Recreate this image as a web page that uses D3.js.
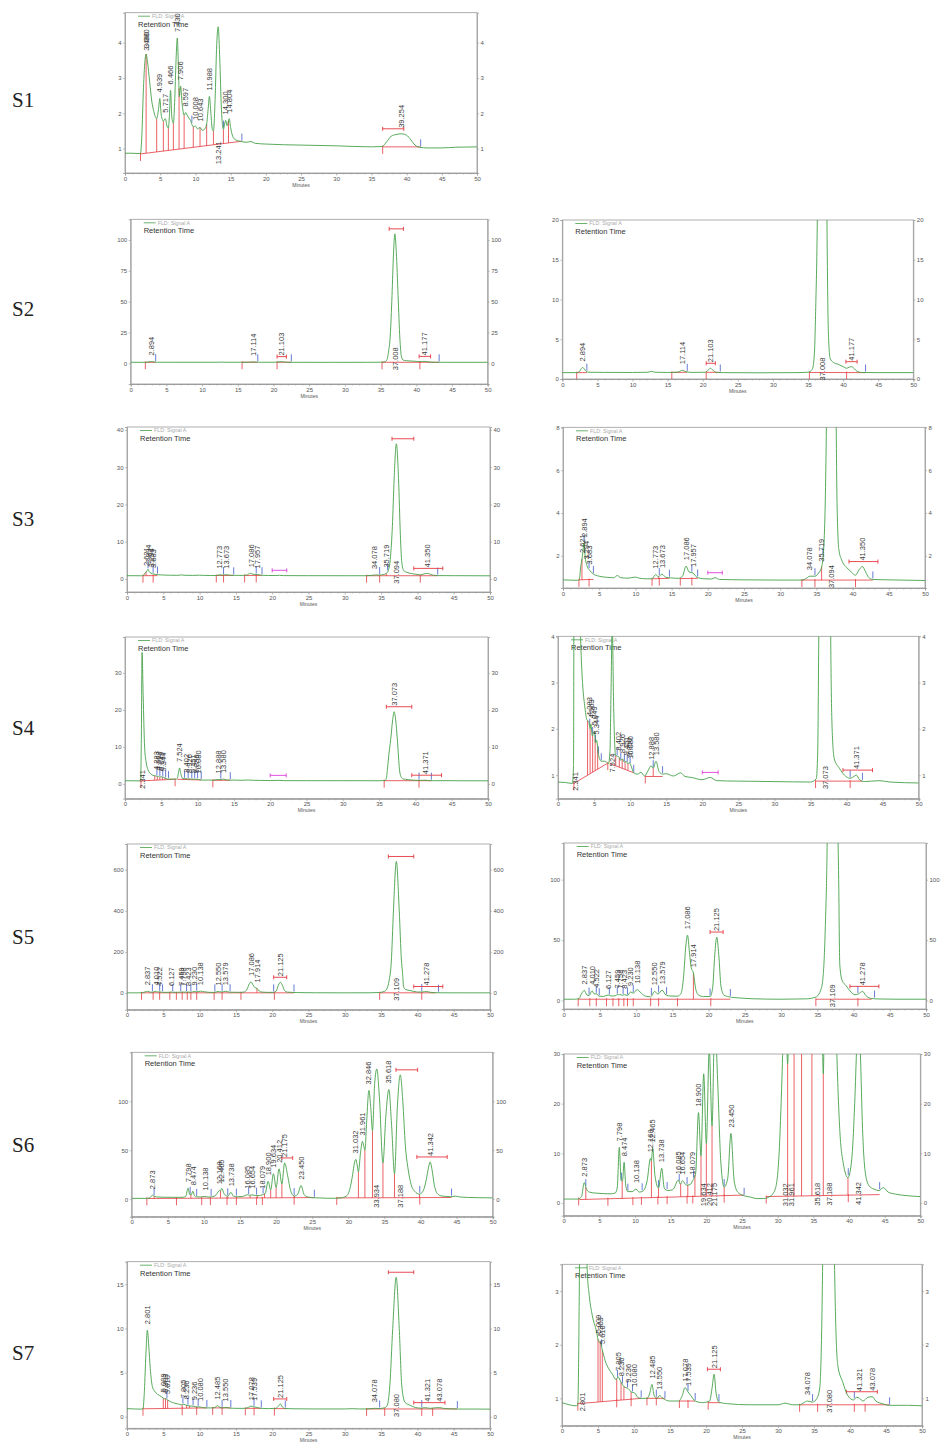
<!DOCTYPE html>
<html>
<head>
<meta charset="utf-8">
<script src="https://cdn.jsdelivr.net/npm/d3@7"></script>
<style>
body { margin: 0; background: #fff; }
svg { display: block; }
text { font-family: "Liberation Sans", Arial, sans-serif; }
</style>
</head>
<body>
<svg id="chart" width="942" height="1448"></svg>
<script>
// ---- data: [minutes, signal] ----
var sampleNames = ["S1", "S2", "S3", "S4", "S5", "S6", "S7"];

var s1Trace = [[0,0.87],[1,0.87],[2,0.86],[2.2,0.87],[2.4,1.4],[2.6,2.6],[2.8,3.4],[3.0,3.68],[3.2,3.45],[3.5,2.9],[3.8,2.35],[4.1,2.05],[4.5,1.85],[4.75,2.1],[4.95,2.42],[5.15,1.95],[5.45,1.78],[5.72,1.85],[6.0,1.62],[6.16,1.58],[6.3,1.9],[6.47,2.65],[6.65,1.9],[6.87,1.72],[7.05,2.3],[7.25,3.5],[7.43,4.13],[7.6,3.2],[7.72,2.47],[7.9,2.77],[8.1,2.3],[8.4,1.95],[8.6,2.02],[8.9,1.92],[9.3,1.8],[9.7,1.62],[10.0,1.64],[10.3,1.56],[10.65,1.6],[11.0,1.52],[11.3,1.55],[11.6,1.7],[11.8,2.1],[11.99,2.48],[12.2,2.0],[12.4,1.55],[12.56,1.5],[12.8,2.4],[13.0,3.8],[13.24,4.45],[13.45,3.6],[13.7,2.1],[13.98,1.55],[14.15,1.7],[14.3,1.8],[14.5,1.65],[14.8,1.85],[15.0,1.6],[15.3,1.35],[15.7,1.25],[16.6,1.2],[17.2,1.18],[17.9,1.2],[18.5,1.15],[20,1.13],[25,1.1],[30,1.08],[35,1.05],[36.5,1.06],[37.2,1.2],[37.8,1.35],[38.5,1.4],[39.3,1.42],[40.0,1.38],[40.6,1.25],[41.2,1.1],[41.8,1.04],[43,1.02],[45,1.02],[47,1.04],[50,1.05]];
var s1Labels = [["3.080",2.98,3.68,"u"],["3.480",3.1,3.6,"u"],["4.939",4.939,2.42,"u"],["5.717",5.717,1.85,"u"],["6.466",6.466,2.65,"u"],["7.430",7.43,4.13,"u"],["7.906",7.906,2.77,"u"],["8.597",8.597,2.02,"u"],["10.008",10.008,1.64,"u"],["10.643",10.643,1.6,"u"],["11.988",11.988,2.48,"u"],["13.241",13.241,4.45,"d"],["14.300",14.3,1.8,"u"],["14.804",14.804,1.85,"u"],["39.254",39.254,1.42,"u"]];
var s1Bases = [[2.2,0.85,16.6,1.21],[36.6,1.05,42.0,1.05]];
var s1Drops = [3.0,4.5,5.45,6.16,6.87,7.68,8.4,9.7,10.66,11.6,12.56,13.98,14.7];
var s1Starts = [2.2,36.6];
var s1Ends = [9.5,14.0,16.6,42.0];
var s1Brackets = [[36.6,39.6,1.42,"r"]];

var s2Trace = [[0,0.8],[2,0.8],[2.4,0.9],[2.7,1.3],[2.9,1.45],[3.1,1.3],[3.4,0.95],[3.8,0.85],[6,0.83],[10,0.82],[12.2,0.85],[12.7,0.97],[13.2,0.85],[15,0.82],[16.5,0.87],[17.1,1.1],[17.6,0.92],[18.5,0.83],[20.4,0.85],[20.8,1.15],[21.1,1.35],[21.4,1.15],[21.9,0.85],[23,0.8],[28,0.78],[33,0.8],[35,0.85],[35.6,1.2],[35.9,3],[36.1,9],[36.35,22],[36.6,55],[36.8,88],[37.0,105],[37.2,90],[37.45,55],[37.7,20],[37.9,6],[38.15,2.6],[38.6,2.1],[39.3,1.85],[40.0,1.55],[40.5,1.35],[40.9,1.5],[41.2,1.55],[41.6,1.3],[42.0,0.95],[42.6,0.82],[45,0.8],[50,0.8]];
var s2Labels = [["2.894",2.894,1.45,"uu"],["17.114",17.114,1.1,"uu"],["21.103",21.103,1.35,"uu"],["37.008",37.008,105,"dd"],["41.177",41.177,1.55,"uu"]];
var s2Bases = [[2.05,0.8,3.5,0.8],[15.6,0.82,17.8,0.85],[20.5,0.85,22.5,0.82],[35.2,0.82,43.2,0.8]];
var s2Drops = [];
var s2Starts = [2.05,15.6,20.5,35.2,40.5];
var s2Ends = [3.5,17.8,22.5,43.2];
var s2Brackets = [[36.2,38.2,105,"r"],[20.5,21.8,1.35,"r"],[40.4,42.0,1.55,"r"]];

var s3Trace = [[0,0.88],[2,0.86],[2.25,0.9],[2.45,1.5],[2.62,1.85],[2.75,2.2],[2.9,2.6],[3.05,2.0],[3.3,1.55],[3.7,1.32],[4.2,1.15],[5,1.05],[6,1.0],[7,0.98],[7.5,1.08],[8,0.98],[9,0.96],[10,1.01],[10.5,0.96],[11.5,0.93],[12.3,0.93],[12.77,1.12],[13.2,1.03],[13.67,1.15],[14.2,1.0],[15,0.97],[16,0.95],[16.5,1.05],[17.0,1.52],[17.4,1.25],[17.95,1.2],[18.5,1.0],[19.5,0.93],[20.5,0.92],[21.0,0.98],[21.6,0.9],[25,0.88],[30,0.87],[33,0.87],[33.6,0.95],[34.1,1.05],[34.8,1.05],[35.3,1.2],[35.7,1.45],[36.0,2.3],[36.3,6],[36.55,14],[36.8,27],[37.1,36.3],[37.4,27],[37.65,12],[37.85,4.5],[38.1,2.3],[38.5,1.8],[39.2,1.45],[39.8,1.25],[40.4,1.1],[40.9,1.35],[41.35,1.5],[41.8,1.25],[42.2,1.0],[42.8,0.9],[45,0.88],[50,0.85]];
var s3Labels = [["2.621",2.621,1.85,"uu"],["2.894",2.894,2.6,"uu"],["3.294",3.294,1.55,"uu"],["3.683",3.683,1.32,"uu"],["12.773",12.773,1.12,"uu"],["13.673",13.673,1.15,"uu"],["17.086",17.086,1.52,"uu"],["17.957",17.957,1.2,"uu"],["34.078",34.078,1.05,"uu"],["35.719",35.719,1.45,"uu"],["37.094",37.094,36.3,"dd"],["41.350",41.35,1.5,"uu"]];
var s3Bases = [[2.2,0.88,4.2,0.9],[12.3,0.93,14.7,0.95],[16.2,0.94,18.6,0.95],[33.0,0.87,42.8,0.87]];
var s3Drops = [2.62,13.2,35.72];
var s3Starts = [2.2,3.6,12.3,13.3,16.2,17.8,33.0,34.8,40.4];
var s3Ends = [2.9,3.6,4.2,13.3,14.7,17.8,18.6,34.8,35.9,42.8];
var s3Brackets = [[36.5,39.5,36.3,"r"],[39.5,43.5,1.5,"r"],[20,22,0.98,"m"]];

var s4Trace = [[0,0.85],[1,0.84],[2,0.82],[2.15,1.2],[2.25,12],[2.35,35.5],[2.5,24],[2.7,10],[2.9,6],[3.1,4.2],[3.4,3.0],[3.7,2.5],[4.0,2.2],[4.28,2.15],[4.45,2.0],[4.56,2.1],[4.75,1.85],[5.05,1.95],[5.2,1.7],[5.35,1.75],[5.6,1.45],[6.0,1.3],[6.5,1.3],[7.0,1.25],[7.2,1.5],[7.35,2.8],[7.52,4.3],[7.7,2.6],[7.85,1.7],[8.0,1.42],[8.4,1.4],[8.7,1.32],[8.93,1.35],[9.2,1.28],[9.45,1.3],[9.7,1.24],[9.85,1.27],[10.08,1.22],[10.5,1.05],[11,1.02],[11.5,1.06],[12,0.98],[12.5,1.1],[12.89,1.2],[13.2,1.15],[13.58,1.3],[14.0,1.08],[14.5,1.02],[15,1.03],[16,0.98],[17,1.05],[17.6,0.97],[18.5,0.95],[20,0.9],[21.1,0.95],[22,0.88],[25,0.87],[30,0.86],[35,0.85],[35.8,0.92],[36.0,1.5],[36.15,4],[36.35,8],[36.6,12],[36.85,17],[37.07,19.5],[37.3,17],[37.55,11],[37.8,4],[38.0,2],[38.3,1.35],[39,1.15],[39.7,1.0],[40.5,0.93],[41.0,0.97],[41.37,1.0],[41.8,0.9],[42.5,0.86],[44.5,0.88],[46,0.85],[50,0.83]];
var s4Labels = [["2.341",2.341,35.5,"dd"],["4.283",4.283,2.15,"uu"],["4.563",4.563,2.1,"uu"],["5.049",5.049,1.95,"uu"],["5.344",5.344,1.75,"uu"],["7.524",7.524,4.3,"ud"],["8.402",8.402,1.4,"uu"],["8.926",8.926,1.35,"uu"],["9.451",9.451,1.3,"uu"],["9.850",9.85,1.27,"uu"],["10.080",10.08,1.22,"uu"],["12.888",12.888,1.2,"uu"],["13.580",13.58,1.3,"uu"],["37.073",37.073,19.5,"ud"],["41.371",41.371,1.0,"uu"]];
var s4Bases = [[2.2,0.82,6.8,1.25],[7.2,1.25,10.5,1.05],[12.1,0.97,14.5,0.97],[35.7,0.87,42.2,0.87]];
var s4Drops = [4.1,4.45,4.8,5.15,5.5,8.0,8.5,8.9,9.3,9.7,13.2];
var s4Starts = [2.2,6.9,12.1,35.7,40.5];
var s4Ends = [4.4,4.8,5.2,5.6,6.0,8.2,8.7,9.2,9.6,10.0,10.5,13.2,14.5,40.5,42.2];
var s4Brackets = [[36.0,39.5,19.5,"r"],[39.5,43.6,1.0,"r"],[20,22.2,0.95,"m"]];

var s5Trace = [[0,1],[1.5,1],[2.1,1.5],[2.5,6],[2.84,8.3],[3.2,4.5],[3.5,4],[3.9,8],[4.2,5.5],[4.52,5.5],[4.9,3.5],[5.5,3.3],[6.13,4.5],[6.6,3.6],[7.1,3.8],[7.46,5],[7.6,4.6],[7.76,5],[8.1,4.2],[8.42,4.8],[8.8,4.0],[9.23,7],[9.6,6],[10.14,9],[10.7,6],[11.3,3.5],[12.0,3.0],[12.55,7.5],[13.0,5.2],[13.58,8.5],[14.1,4.5],[14.8,3.6],[15.7,3.5],[16.2,6],[16.55,20],[16.85,45],[17.09,54],[17.35,40],[17.6,27],[17.91,22.6],[18.2,10],[18.6,4.5],[19.3,3.2],[20.2,3.3],[20.55,10],[20.85,38],[21.12,52.5],[21.4,38],[21.7,12],[22.1,4.5],[22.8,3],[23.5,2.4],[24.5,1.9],[26,1.4],[30,1.0],[33.5,1.3],[34.8,2.8],[35.5,9],[35.8,20],[36.1,60],[36.4,150],[36.7,400],[37.1,640],[37.5,400],[37.8,160],[37.95,100],[38.1,30],[38.4,17],[39.0,12],[39.5,8],[40.2,4.7],[40.7,5.5],[41.25,7.5],[41.7,4],[42.3,1.8],[43.5,1.2],[46,1.0],[50,1.0]];
var s5Labels = [["2.837",2.837,8.3,"uu"],["4.010",4.01,8,"uu"],["4.522",4.522,5.5,"uu"],["6.127",6.127,4.5,"uu"],["7.459",7.459,5,"uu"],["7.758",7.758,5,"uu"],["8.423",8.423,4.8,"uu"],["9.230",9.23,7,"uu"],["10.138",10.138,9,"uu"],["12.550",12.55,7.5,"uu"],["13.579",13.579,8.5,"uu"],["17.086",17.086,54,"uu"],["17.914",17.914,22.6,"uu"],["21.125",21.125,52.5,"uu"],["37.109",37.109,640,"dd"],["41.278",41.278,7.5,"uu"]];
var s5Bases = [[2.0,1,23.0,1],[34.8,1,42.5,1]];
var s5Drops = [17.9];
var s5Starts = [2.0,3.6,4.5,5.9,6.8,7.6,8.3,8.8,9.6,12.0,13.1,15.7,20.3,34.8,40.6];
var s5Ends = [3.5,4.5,4.9,6.3,7.4,8.2,8.8,9.6,12.1,13.1,14.2,20.2,23.0,40.6,42.9];
var s5Brackets = [[36.0,39.5,640,"r"],[20.2,22.0,52.5,"r"],[39.5,43.5,7.5,"r"]];

var s6Trace = [[0,0.8],[2,0.8],[2.5,1.3],[2.87,4.1],[3.2,2.8],[3.6,2.2],[4.5,2.0],[5.5,1.9],[6.5,1.85],[7.2,2.0],[7.5,3],[7.8,11.2],[8.05,4.5],[8.25,4.5],[8.47,8.2],[8.7,3.5],[9.0,2.3],[9.6,2.3],[10.14,2.8],[10.6,2.2],[11.1,2.4],[11.7,4.5],[12.17,9],[12.3,8.5],[12.47,11],[12.8,5.5],[13.3,3],[13.74,7],[14.1,3],[14.6,2.5],[15.3,2.7],[16.08,4.6],[16.35,3.8],[16.65,4.5],[17.2,3.6],[17.7,3.7],[18.08,4.5],[18.5,6],[18.9,18.2],[19.25,9.5],[19.63,26],[20.0,12],[20.41,31],[20.8,15.5],[21.18,37],[21.6,24],[22.0,9],[22.5,3.2],[23.0,5],[23.45,14],[23.9,4.5],[24.4,2.2],[25.2,1.5],[26.2,1.2],[27,0.9],[28,0.9],[29,1.4],[29.7,3],[30.2,10],[30.6,25],[30.85,37],[31.03,40.6],[31.2,36],[31.4,28],[31.7,48],[31.96,59],[32.15,54],[32.3,50],[32.55,80],[32.85,111],[33.1,95],[33.35,70],[33.65,118],[33.95,133],[34.3,105],[34.8,37],[35.2,85],[35.62,112],[36.0,75],[36.4,26],[36.8,95],[37.2,127],[37.55,100],[37.9,55],[38.3,30],[38.7,15],[39.2,8],[39.86,5.1],[40.4,9],[40.8,20],[41.1,32],[41.34,38],[41.6,30],[41.9,15],[42.3,6],[42.8,3.5],[43.5,2.8],[44.2,2.5],[44.8,3.1],[45.5,2.2],[46.5,1.8],[48,1.5],[50,1.3]];
var s6Labels = [["2.873",2.873,4.1,"uu"],["7.798",7.798,11.2,"uu"],["8.474",8.474,8.2,"uu"],["10.138",10.138,2.8,"uu"],["12.168",12.168,9,"uu"],["12.465",12.465,11,"uu"],["13.738",13.738,7,"uu"],["16.085",16.085,4.6,"uu"],["16.654",16.654,4.5,"uu"],["18.079",18.079,4.5,"uu"],["18.900",18.9,18.2,"uu"],["19.634",19.634,26,"ud"],["20.412",20.412,31,"ud"],["21.175",21.175,37,"ud"],["23.450",23.45,14,"uu"],["31.032",31.032,40.6,"ud"],["31.961",31.961,59,"ud"],["32.846",32.846,111,"u-"],["33.934",33.934,133,"d-"],["35.618",35.618,112,"ud"],["37.188",37.188,127,"dd"],["41.342",41.342,38,"ud"]];
var s6Bases = [[2.2,0.7,25.3,1.6],[28.4,1.3,44.3,1.7]];
var s6Drops = [3.1,8.2,12.3,13.3,16.4,17.4,18.4,19.25,20.0,20.8,22.5,31.4,32.3,33.35,34.8,36.4,39.86];
var s6Starts = [2.1,6.2,9.7,10.9,13.2,14.5,17.3,18.1,22.5,28.4,39.9];
var s6Ends = [3.1,8.1,9.0,11.0,13.3,14.5,16.2,17.3,18.2,22.5,25.3,39.9,44.3];
var s6Brackets = [[20.8,22.3,37,"r"],[36.6,39.6,127,"r"],[39.5,43.7,38,"r"]];

var s7Trace = [[0,0.92],[1,0.88],[2,0.86],[2.2,0.9],[2.4,3],[2.6,7],[2.8,9.8],[3.0,8],[3.2,5.5],[3.5,3.4],[3.8,2.9],[4.2,2.55],[4.8,2.24],[5.0,2.1],[5.15,2.05],[5.3,2.05],[5.6,1.9],[6.0,1.7],[6.5,1.55],[7.0,1.45],[7.5,1.35],[7.8,1.4],[8.2,1.3],[8.6,1.22],[9.2,1.18],[9.6,1.12],[10.1,1.1],[10.5,1.02],[11.0,1.0],[11.8,1.0],[12.2,1.1],[12.49,1.26],[12.8,1.05],[13.2,1.0],[13.55,1.05],[14.0,1.0],[15,0.95],[16.2,0.95],[16.7,1.05],[17.08,1.2],[17.5,1.12],[17.9,1.05],[18.5,0.95],[19.5,0.92],[20.5,0.95],[20.85,1.2],[21.12,1.45],[21.4,1.1],[21.8,0.93],[23,0.9],[26,0.88],[30,0.88],[31,0.91],[32,0.88],[33,0.88],[33.6,0.92],[34.08,0.95],[34.8,0.93],[35.4,1.0],[35.8,1.2],[36.2,3.5],[36.6,10],[37.08,15.8],[37.5,10],[37.85,3.5],[38.3,1.62],[39.0,1.3],[39.7,1.05],[40.5,0.97],[40.9,1.02],[41.32,1.0],[41.8,0.95],[42.5,1.02],[43.08,1.03],[43.6,0.95],[44.5,0.9],[45.5,0.87],[48,0.87],[50,0.86]];
var s7Labels = [["2.801",2.801,9.8,"ud"],["5.009",5.0,2.1,"uu"],["5.303",5.303,2.05,"uu"],["5.610",5.61,1.9,"uu"],["7.805",7.805,1.4,"uu"],["8.236",8.236,1.3,"uu"],["9.236",9.236,1.18,"uu"],["10.080",10.08,1.1,"uu"],["12.485",12.485,1.26,"uu"],["13.550",13.55,1.05,"uu"],["17.078",17.078,1.2,"uu"],["17.539",17.539,1.12,"uu"],["21.125",21.125,1.45,"uu"],["34.078",34.078,0.95,"uu"],["37.080",37.08,15.8,"dd"],["41.321",41.321,1.02,"uu"],["43.078",43.078,1.03,"uu"]];
var s7Bases = [[2.2,0.9,11.0,1.0],[11.8,1.0,14.3,1.0],[16.3,0.95,18.5,0.95],[20.3,0.92,22.0,0.92],[33.0,0.88,45.5,0.88]];
var s7Drops = [5.0,5.3,5.6,7.6,8.2,8.6,9.6];
var s7Starts = [2.2,7.6,9.6,11.8,13.1,16.3,17.5,20.3,33.0,35.5,40.6,42.1];
var s7Ends = [5.5,7.7,8.4,9.1,9.8,11.0,13.1,14.3,17.5,18.5,21.8,34.8,40.6,45.5];
var s7Brackets = [[36.0,39.5,15.8,"r"],[20.2,22.0,1.45,"r"],[39.5,43.8,1.03,"r"]];

var xTicks = d3.range(0, 51, 5);

// table built from the arrays above
var samples = [
  {trace: s1Trace, labels: s1Labels, bases: s1Bases, drops: s1Drops, starts: s1Starts, ends: s1Ends, brackets: s1Brackets, down: 20},
  {trace: s2Trace, labels: s2Labels, bases: s2Bases, drops: s2Drops, starts: s2Starts, ends: s2Ends, brackets: s2Brackets, down: 8},
  {trace: s3Trace, labels: s3Labels, bases: s3Bases, drops: s3Drops, starts: s3Starts, ends: s3Ends, brackets: s3Brackets, down: 8},
  {trace: s4Trace, labels: s4Labels, bases: s4Bases, drops: s4Drops, starts: s4Starts, ends: s4Ends, brackets: s4Brackets, down: 8},
  {trace: s5Trace, labels: s5Labels, bases: s5Bases, drops: s5Drops, starts: s5Starts, ends: s5Ends, brackets: s5Brackets, down: 8},
  {trace: s6Trace, labels: s6Labels, bases: s6Bases, drops: s6Drops, starts: s6Starts, ends: s6Ends, brackets: s6Brackets, down: 10},
  {trace: s7Trace, labels: s7Labels, bases: s7Bases, drops: s7Drops, starts: s7Starts, ends: s7Ends, brackets: s7Brackets, down: 8}
];

// panel layout: pixel box, y domain and y ticks (left column = full scale, right = zoomed)
var panels = [
  {s: 0, side: 0, x: [125, 477],     y: [173, 12.7],     dom: [0.31, 4.85],  ticks: [1, 2, 3, 4]},
  {s: 1, side: 0, x: [130.7, 487.7], y: [384, 219.3],    dom: [-16.8, 116.8], ticks: [0, 25, 50, 75, 100]},
  {s: 1, side: 1, x: [562.3, 913.3], y: [379, 220],      dom: [0, 20],       ticks: [0, 5, 10, 15, 20]},
  {s: 2, side: 0, x: [127, 490],     y: [592, 427],      dom: [-3.5, 40.8],  ticks: [0, 10, 20, 30, 40]},
  {s: 2, side: 1, x: [563, 925],     y: [588, 427.3],    dom: [0.5, 8],      ticks: [2, 4, 6, 8]},
  {s: 3, side: 0, x: [125, 488],     y: [798.7, 637],    dom: [-4, 39.7],    ticks: [0, 10, 20, 30]},
  {s: 3, side: 1, x: [558, 918.7],   y: [798.7, 636.3],  dom: [0.49, 4],     ticks: [1, 2, 3, 4]},
  {s: 4, side: 0, x: [127, 490],     y: [1009.7, 844],   dom: [-81, 725],    ticks: [0, 200, 400, 600]},
  {s: 4, side: 1, x: [563.7, 926],   y: [1009, 843],     dom: [-7.1, 130.4], ticks: [0, 50, 100]},
  {s: 5, side: 0, x: [131.7, 492.7], y: [1216.7, 1052.3], dom: [-17.9, 150], ticks: [0, 50, 100]},
  {s: 5, side: 1, x: [563.7, 920.3], y: [1215.7, 1054],  dom: [-2.55, 30],   ticks: [0, 10, 20, 30]},
  {s: 6, side: 0, x: [127, 490],     y: [1428.3, 1261.7], dom: [-1.31, 17.56], ticks: [0, 5, 10, 15]},
  {s: 6, side: 1, x: [562, 922],     y: [1425.7, 1264.3], dom: [0.49, 3.5],  ticks: [1, 2, 3]}
];
var rowY = [107, 316, 526, 735, 944, 1152, 1360];

var GREEN = "#45a048", RED = "#e5383f", BLUE = "#3d5bc8", MAGENTA = "#df3fdf";
var fmt = d3.format("~g");

var svg = d3.select("#chart");
var defs = svg.append("defs");

function valueAt(tr, t) {
  var i = d3.bisector(function(d){ return d[0]; }).left(tr, t);
  if (i <= 0) return tr[0][1];
  if (i >= tr.length) return tr[tr.length - 1][1];
  var a = tr[i - 1], b = tr[i];
  return a[1] + (b[1] - a[1]) * (t - a[0]) / (b[0] - a[0]);
}
function baseAt(d, t) {
  var seg = d.bases.find(function(b){ return t >= b[0] && t <= b[2]; });
  if (!seg) return valueAt(d.trace, t);
  return seg[1] + (seg[3] - seg[1]) * (t - seg[0]) / (seg[2] - seg[0]);
}

// row names
svg.selectAll(".rowname").data(sampleNames).enter()
   .append("text")
   .attr("class", "rowname")
   .attr("x", 12)
   .attr("y", function(d, i){ return rowY[i]; })
   .style("font-family", "'Liberation Serif', 'Times New Roman', serif")
   .style("font-size", "21px")
   .attr("fill", "#222")
   .text(function(d){ return d; });

panels.forEach(function(p, k) {
  var d = samples[p.s];
  var x = d3.scaleLinear().domain([0, 50]).range(p.x);
  var y = d3.scaleLinear().domain(p.dom).range(p.y);
  var g = svg.append("g");

  defs.append("clipPath").attr("id", "clip" + k)
      .append("rect")
      .attr("x", p.x[0]).attr("y", p.y[1])
      .attr("width", p.x[1] - p.x[0]).attr("height", p.y[0] - p.y[1]);

  // frame
  g.append("rect")
   .attr("x", p.x[0]).attr("y", p.y[1])
   .attr("width", p.x[1] - p.x[0]).attr("height", p.y[0] - p.y[1])
   .attr("fill", "none").attr("stroke", "#9a9a9a").attr("stroke-width", 0.8);

  // axes
  g.append("g").attr("transform", "translate(0," + p.y[0] + ")")
   .call(d3.axisBottom(x).tickValues(xTicks).tickSize(2.5).tickPadding(0.8).tickFormat(fmt));
  g.append("g").attr("transform", "translate(0," + p.y[0] + ")")
   .call(d3.axisBottom(x).tickValues(d3.range(0, 51, 1)).tickSize(1.5).tickFormat(""));
  g.append("g").attr("transform", "translate(" + p.x[0] + ",0)")
   .call(d3.axisLeft(y).tickValues(p.ticks).tickSize(2).tickPadding(1.5).tickFormat(fmt));
  g.append("g").attr("transform", "translate(" + p.x[1] + ",0)")
   .call(d3.axisRight(y).tickValues(p.ticks).tickSize(2).tickPadding(1.5).tickFormat(fmt));
  g.selectAll(".domain").attr("stroke", "#9a9a9a").attr("stroke-width", 0.8);
  g.selectAll(".tick line").attr("stroke", "#9a9a9a").attr("stroke-width", 0.6);
  g.selectAll(".tick text").attr("fill", "#555").style("font-size", "6px")
   .style("font-family", "'Liberation Sans', Arial, sans-serif");

  g.append("text")
   .attr("x", (p.x[0] + p.x[1]) / 2).attr("y", p.y[0] + 13.5)
   .attr("text-anchor", "middle").attr("fill", "#555")
   .style("font-size", "5px").text("Minutes");

  // legend
  g.append("line")
   .attr("x1", p.x[0] + 13).attr("x2", p.x[0] + 25)
   .attr("y1", p.y[1] + 3.5).attr("y2", p.y[1] + 3.5)
   .attr("stroke", GREEN).attr("stroke-width", 0.8);
  g.append("text")
   .attr("x", p.x[0] + 27).attr("y", p.y[1] + 5.3)
   .attr("fill", "#aaa").style("font-size", "5.3px").text("FLD: Signal A");
  g.append("text")
   .attr("x", p.x[0] + 13).attr("y", p.y[1] + 14)
   .attr("fill", "#333").style("font-size", "7.5px").text("Retention Time");

  var plot = g.append("g").attr("clip-path", "url(#clip" + k + ")");

  // integration baselines
  plot.selectAll(".base").data(d.bases).enter()
      .append("line")
      .attr("x1", function(b){ return x(b[0]); })
      .attr("y1", function(b){ return y(b[1]); })
      .attr("x2", function(b){ return x(b[2]); })
      .attr("y2", function(b){ return y(b[3]); })
      .attr("stroke", RED).attr("stroke-width", 0.8);

  // drop lines
  plot.selectAll(".drop").data(d.drops).enter()
      .append("line")
      .attr("x1", function(t){ return x(t); }).attr("x2", function(t){ return x(t); })
      .attr("y1", function(t){ return y(baseAt(d, t)); })
      .attr("y2", function(t){ return y(valueAt(d.trace, t)); })
      .attr("stroke", RED).attr("stroke-width", 0.8);

  // peak start marks (red) and end marks (blue)
  plot.selectAll(".start").data(d.starts).enter()
      .append("line")
      .attr("x1", function(t){ return x(t); }).attr("x2", function(t){ return x(t); })
      .attr("y1", function(t){ return y(baseAt(d, t)) - 1; })
      .attr("y2", function(t){ return y(baseAt(d, t)) + 7; })
      .attr("stroke", RED).attr("stroke-width", 0.8);
  plot.selectAll(".end").data(d.ends).enter()
      .append("line")
      .attr("x1", function(t){ return x(t); }).attr("x2", function(t){ return x(t); })
      .attr("y1", function(t){ return y(valueAt(d.trace, t)) - 1; })
      .attr("y2", function(t){ return y(valueAt(d.trace, t)) - 8; })
      .attr("stroke", BLUE).attr("stroke-width", 0.8);

  // time-window brackets
  var br = plot.selectAll(".bracket").data(d.brackets).enter().append("g")
      .attr("stroke", function(b){ return b[3] === "m" ? MAGENTA : RED; })
      .attr("stroke-width", 0.9);
  br.append("line")
    .attr("x1", function(b){ return x(b[0]); }).attr("x2", function(b){ return x(b[1]); })
    .attr("y1", function(b){ return y(b[2]) - 5; }).attr("y2", function(b){ return y(b[2]) - 5; });
  br.append("line")
    .attr("x1", function(b){ return x(b[0]); }).attr("x2", function(b){ return x(b[0]); })
    .attr("y1", function(b){ return y(b[2]) - 7; }).attr("y2", function(b){ return y(b[2]) - 3; });
  br.append("line")
    .attr("x1", function(b){ return x(b[1]); }).attr("x2", function(b){ return x(b[1]); })
    .attr("y1", function(b){ return y(b[2]) - 7; }).attr("y2", function(b){ return y(b[2]) - 3; });

  // signal trace
  var line = d3.line()
      .x(function(v){ return x(v[0]); })
      .y(function(v){ return y(v[1]); })
      .curve(d3.curveMonotoneX);
  plot.append("path").datum(d.trace)
      .attr("d", line)
      .attr("fill", "none").attr("stroke", GREEN).attr("stroke-width", 0.9);

  // retention time labels
  var labs = d.labels.filter(function(l){
    var m = l[3].charAt(p.side) || l[3].charAt(0);
    return m === "u" || m === "d";
  });
  g.selectAll(".rt").data(labs).enter()
   .append("text")
   .attr("transform", function(l){
     var m = l[3].charAt(p.side) || l[3].charAt(0);
     var yy = m === "u" ? y(l[2]) - 6 : y(baseAt(d, l[1])) + d.down;
     return "translate(" + x(l[1]) + "," + yy + ") rotate(-90)";
   })
   .attr("dy", "0.35em")
   .attr("fill", "#3a3a3a")
   .style("font-size", "7.5px")
   .text(function(l){ return l[0]; });
});
</script>
</body>
</html>
